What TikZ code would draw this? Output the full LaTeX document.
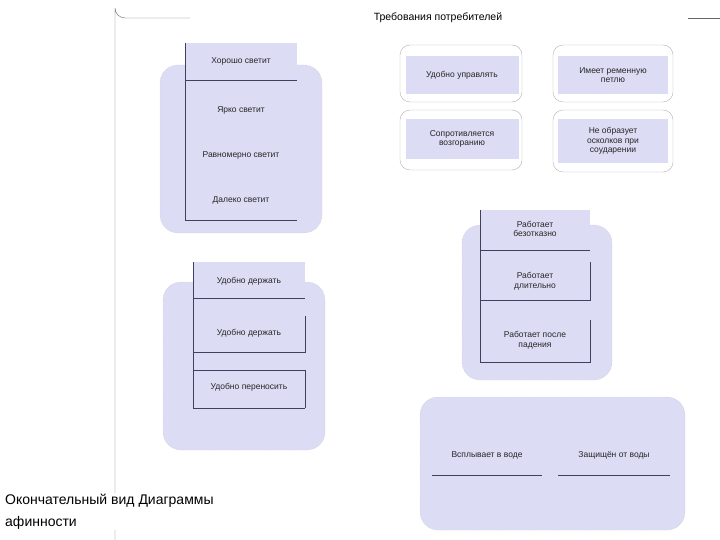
\documentclass[tikz,border=0pt]{standalone}
\usepackage{fontspec}
\setmainfont{Liberation Sans}
\definecolor{lav}{HTML}{DCDCF5}
\definecolor{ln}{HTML}{404060}
\begin{document}
\begin{tikzpicture}[x=1pt,y=-1pt,
 blob/.style={fill=lav,draw=lav!70!gray,densely dotted,rounded corners=18pt},
 card/.style={fill=lav,draw=none},
 frame/.style={draw=gray!60,rounded corners=10pt,fill=white},
 txt/.style={font=\fontsize{8.5}{9.5}\selectfont,align=center,text=black!85},
 rule/.style={draw=ln,line width=0.6pt}]
\useasboundingbox (0,0) rectangle (720,540);
% outer frame
\draw[gray!80!black] (190,18) -- (125,18) arc[start angle=90,end angle=180,radius=10] -- (115,540);
\draw[gray!80!black] (688,18) -- (720,18);
\node[font=\fontsize{10.5}{12}\selectfont] (title) at (438,18) {Требования потребителей};
% group 1
\draw[blob] (160,65) rectangle (322,233);
\node[card,minimum width=112,minimum height=37] (h1) at (241,61.5) {};
\node[txt] (h1t) at (241,61) {Хорошо светит};
\draw[rule] (185,43) -- (185,220) -- (297,220);
\draw[rule] (185,80) -- (297,80);
\node[txt] (a1) at (241,110) {Ярко светит};
\node[txt] (a2) at (241,155) {Равномерно светит};
\node[txt] (a3) at (241,200) {Далеко светит};
% group 2
\draw[blob] (163,282) rectangle (325,450);
\node[card,minimum width=112,minimum height=36] (h2) at (249,280) {};
\node[txt] (h2t) at (249,281) {Удобно держать};
\draw[rule] (193,262) -- (193,408) -- (305,408);
\draw[rule] (193,298) -- (305,298);
\draw[rule] (193,316) -- (193,352) -- (305,352) -- (305,316);
\draw[rule] (193,370) -- (305,370) -- (305,408);
\node[txt] (b1) at (249,333) {Удобно держать};
\node[txt] (b2) at (249,387) {Удобно переносить};
% group 3
\draw[blob] (462,225) rectangle (612,380);
\node[card,minimum width=110,minimum height=40] (h3) at (535,230) {};
\node[txt] (h3t) at (535,229) {Работает\\безотказно};
\draw[rule] (480,210) -- (480,362) -- (590,362) -- (590,320);
\draw[rule] (480,250) -- (590,250);
\draw[rule] (480,300) -- (590,300) -- (590,262);
\node[txt] (c1) at (535,281) {Работает\\длительно};
\node[txt] (c2) at (535,340) {Работает после\\падения};
% group 4
\draw[blob] (420,397) rectangle (685,530);
\node[txt] (d1) at (487,455) {Всплывает в воде};
\node[txt] (d2) at (614,455) {Защищён от воды};
\draw[rule] (432,475) -- (542,475);
\draw[rule] (558,475) -- (670,475);
% cards
\draw[frame] (400,45) rectangle (522,102);
\node[card,minimum width=113,minimum height=38,txt] (e1) at (462,75) {Удобно управлять};
\draw[frame] (553,45) rectangle (673,102);
\node[card,minimum width=110,minimum height=38,txt] (e2) at (613,75) {Имеет ременную\\петлю};
\draw[frame] (400,110) rectangle (522,170);
\node[card,minimum width=113,minimum height=40,txt] (e3) at (462,139) {Сопротивляется\\возгоранию};
\draw[frame] (553,110) rectangle (673,172);
\node[card,minimum width=110,minimum height=44,txt] (e4) at (613,141) {Не образует\\осколков при\\соударении};
% caption
\node[anchor=north west,align=left,font=\fontsize{14}{22}\selectfont,fill=white,inner sep=1pt] (cap) at (4,493) {Окончательный вид Диаграммы\\афинности};
\end{tikzpicture}
\end{document}
